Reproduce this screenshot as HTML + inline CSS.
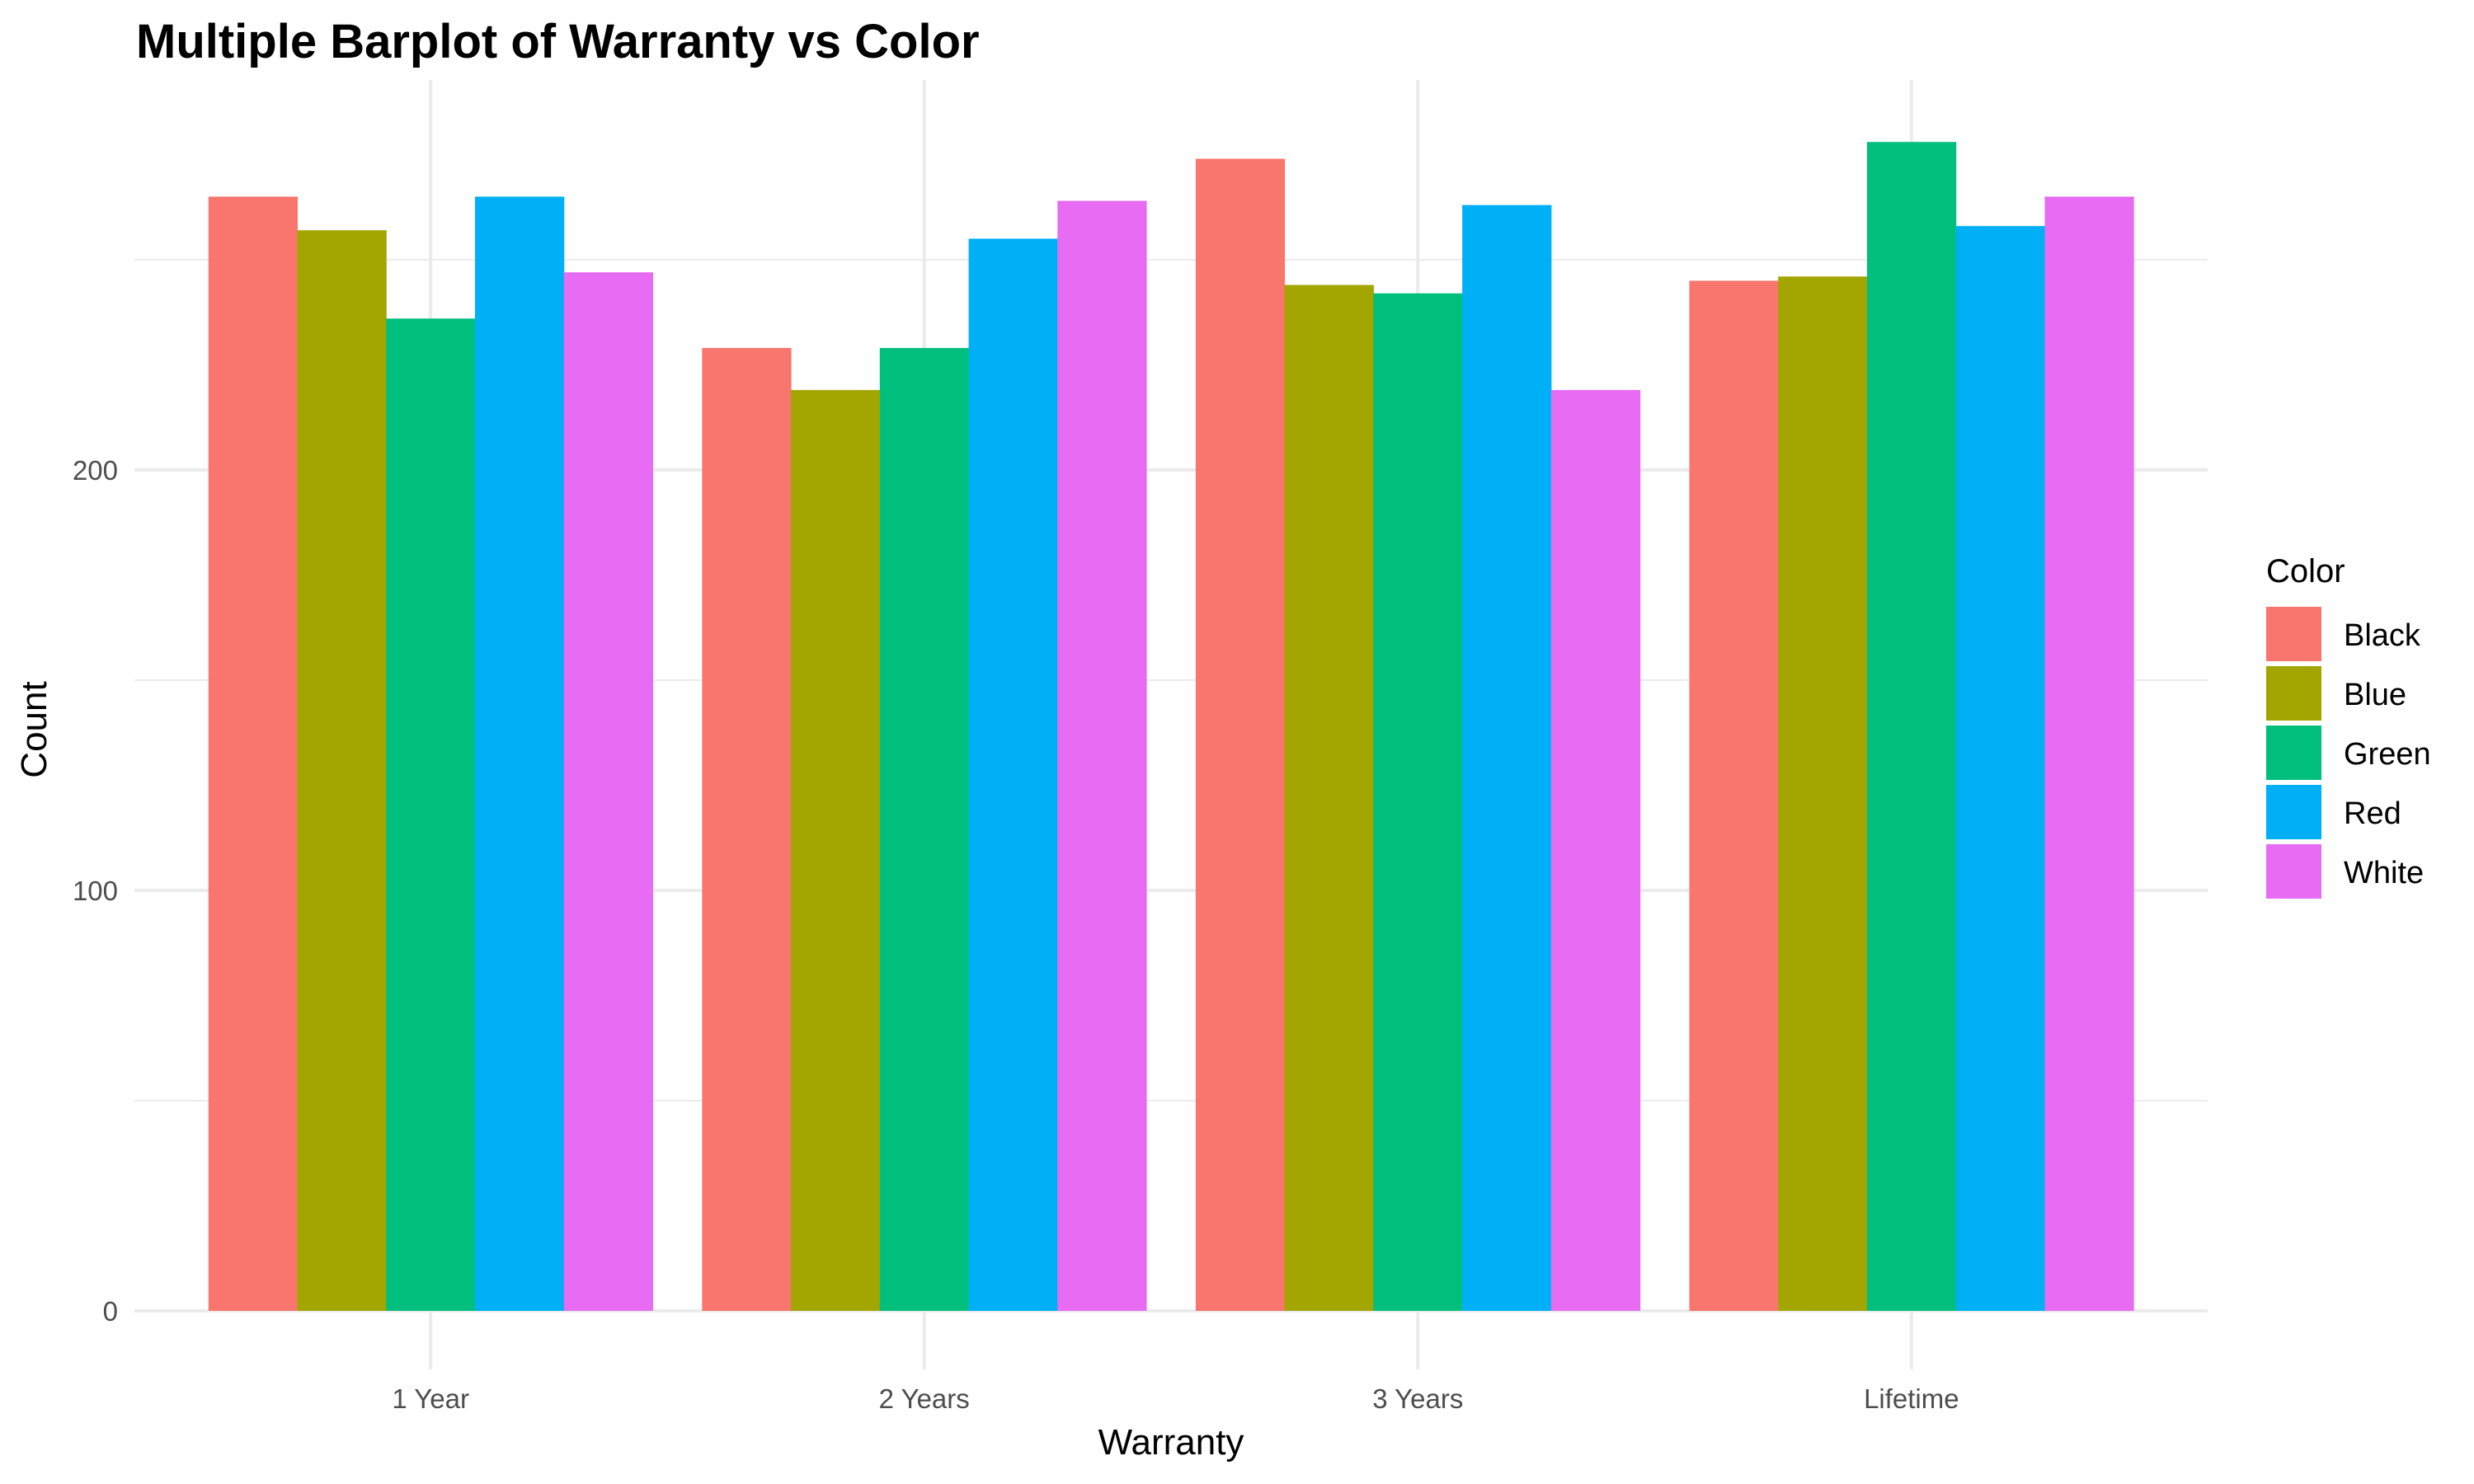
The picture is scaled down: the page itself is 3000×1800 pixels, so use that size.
<!DOCTYPE html>
<html><head><meta charset="utf-8"><style>
html,body{margin:0;padding:0;background:#fff;}
svg{display:block;font-family:"Liberation Sans",Arial,sans-serif;}
</style></head><body>
<svg id="chart" width="3000" height="1800" viewBox="0 0 3000 1800" xmlns="http://www.w3.org/2000/svg">
<rect width="3000" height="1800" fill="#fff"/>
<g id="grid"></g>
<g id="bars"></g>
<g id="axes"></g>
<text x="165" y="70" font-size="58" font-weight="bold" fill="#000">Multiple Barplot of Warranty vs Color</text>
<text x="1420" y="1764" font-size="44" text-anchor="middle" fill="#000">Warranty</text>
<text transform="translate(56,885) rotate(-90)" font-size="44" text-anchor="middle" fill="#000">Count</text>
<g id="legend">
<text x="2748" y="706" font-size="40" fill="#000">Color</text>
</g>
</svg>
<script>
const categories = ["1 Year","2 Years","3 Years","Lifetime"];
const colorNames = ["Black","Blue","Green","Red","White"];
const fills = ["#F8766D","#A3A500","#00BF7D","#00B0F6","#E76BF3"];
const blackVals = [265,229,274,245];
const blueVals = [257,219,244,246];
const greenVals = [236,229,242,278];
const redVals = [265,255,263,258];
const whiteVals = [247,264,219,265];
const yTicks = [0,100,200];
const yMinor = [50,150,250];

const series = [blackVals,blueVals,greenVals,redVals,whiteVals];
const NS = "http://www.w3.org/2000/svg";
const panelL = 163, panelR = 2677, panelT = 97, y0 = 1590, pxPerUnit = 5.1;
const step = (panelR - panelL) / (categories.length + 0.2);
function xCenter(i){ return panelL + step * (0.6 + i); }
function yPos(v){ return y0 - v * pxPerUnit; }
const barW = step * 0.9 / series.length;

function mk(tag, attrs, parent){ const e = document.createElementNS(NS, tag); for (const k in attrs) e.setAttribute(k, attrs[k]); parent.appendChild(e); return e; }
const grid = document.getElementById('grid'), bars = document.getElementById('bars'), axes = document.getElementById('axes'), legend = document.getElementById('legend');

yMinor.forEach(v => {
  const l = mk('line', {x1:panelL, x2:panelR, y1:yPos(v), y2:yPos(v), stroke:'#ebebeb', 'stroke-width':2}, grid);
  
  
});
yTicks.forEach(v => {
  const l = mk('line', {x1:panelL, x2:panelR, y1:yPos(v), y2:yPos(v), stroke:'#ebebeb', 'stroke-width':4}, grid);
  
  
  const t = mk('text', {x:143, y:yPos(v) + 12, 'font-size':33, 'text-anchor':'end', fill:'#4d4d4d'}, axes);
  t.textContent = v;
  
  
});
categories.forEach((c, i) => {
  const l = mk('line', {x1:xCenter(i), x2:xCenter(i), y1:panelT, y2:1661, stroke:'#ebebeb', 'stroke-width':4}, grid);
  
  
  const t = mk('text', {x:xCenter(i), y:1708, 'font-size':33, 'text-anchor':'middle', fill:'#4d4d4d'}, axes);
  t.textContent = c;
  
  
  series.forEach((s, j) => {
    const x = xCenter(i) - step * 0.45 + j * barW;
    const r = mk('rect', {x:x, y:yPos(s[i]), width:barW + 0.5, height:y0 - yPos(s[i]), fill:fills[j]}, bars);
    
    
  });
});
colorNames.forEach((n, j) => {
  const y = 736 + j * 72;
  const r = mk('rect', {x:2748, y:y, width:67, height:66, fill:fills[j]}, legend);
  
  
  const t = mk('text', {x:2842, y:y + 47, 'font-size':38, fill:'#000'}, legend);
  t.textContent = n;
  
  
});
</script>
</body></html>
